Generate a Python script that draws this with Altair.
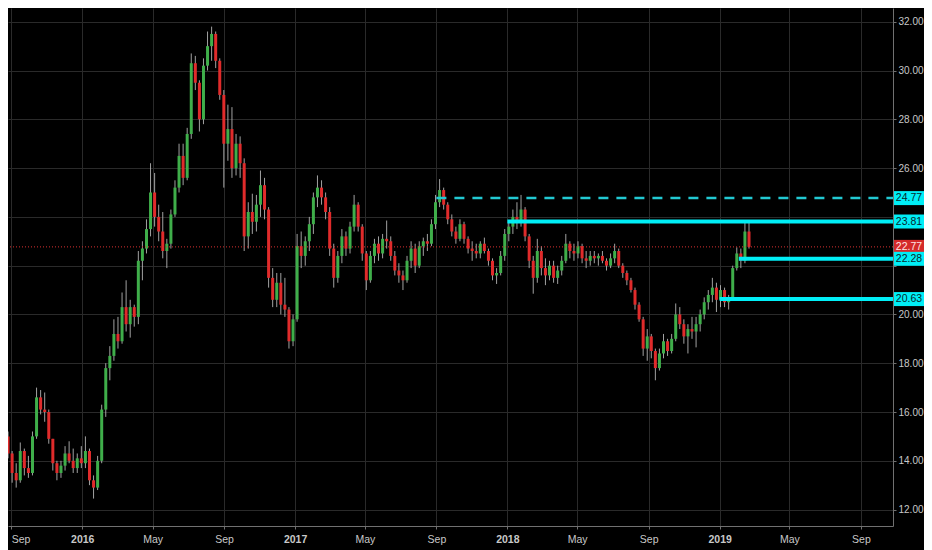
import altair as alt
import pandas as pd

# ---- weekly OHLC (Aug 2015 - Feb 2019) ----
opens = [15.0, 14.3, 13.5, 13.2, 14.4, 13.7, 13.5, 15.0, 16.6, 16.1,
         16.0, 14.9, 13.9, 13.5, 13.8, 14.3, 14.0, 13.7, 14.1, 13.9,
         14.4, 13.2, 12.9, 14.0, 16.1, 17.8, 18.3, 19.2, 18.9, 20.3,
         19.6, 20.3, 19.9, 22.2, 22.7, 23.5, 25.0, 24.0, 23.4, 22.6,
         22.9, 24.1, 25.2, 26.5, 25.6, 27.4, 30.3, 29.5, 28.0, 30.2,
         31.0, 31.5, 30.4, 29.0, 27.0, 27.6, 26.0, 27.0, 26.2, 23.2,
         24.2, 23.8, 24.5, 25.3, 24.3, 21.5, 20.6, 21.3, 20.4, 20.2,
         18.9, 19.8, 22.8, 22.4, 23.0, 23.7, 24.8, 25.2, 24.8, 24.2,
         22.7, 21.5, 22.4, 23.2, 22.7, 23.6, 24.5, 23.6, 22.5, 21.4,
         22.4, 22.9, 22.5, 23.1, 23.0, 22.4, 21.8, 21.6, 21.4, 22.2,
         22.7, 22.0, 22.8, 23.0, 22.9, 23.7, 24.6, 25.1, 24.5, 23.9,
         23.4, 23.1, 23.7, 23.1, 22.7, 22.6, 22.5, 22.9, 22.6, 22.2,
         21.6, 21.7, 22.4, 23.3, 23.6, 24.0, 23.8, 24.3, 23.2, 22.2,
         21.5, 22.6, 21.9, 21.6, 22.0, 21.5, 21.8, 22.2, 22.9, 22.6,
         22.5, 22.8, 22.3, 22.2, 22.4, 22.3, 22.4, 22.2, 22.0, 22.3,
         22.6, 22.0, 21.7, 21.4, 21.0, 20.4, 19.8, 18.6, 19.1, 18.5,
         17.8, 18.4, 18.9, 18.5, 19.0, 20.0, 19.6, 19.1, 19.4, 19.3,
         19.6, 20.0, 20.5, 20.8, 21.1, 20.6, 21.0, 20.5, 20.7, 21.9,
         22.5, 22.2, 23.4]
highs = [15.2, 14.4, 13.9, 14.75, 14.5, 14.2, 15.2, 17.0, 16.9, 16.8,
         16.1, 14.9, 14.0, 14.0, 14.6, 14.8, 14.5, 14.3, 14.6, 15.0,
         14.5, 13.4, 14.2, 16.3, 18.0, 18.7, 19.8, 19.9, 20.9, 21.4,
         20.6, 20.4, 22.6, 23.0, 23.9, 26.2, 25.8, 24.5, 24.2, 23.1,
         24.3, 25.5, 27.0, 27.0, 27.65, 30.7, 30.6, 29.6, 30.5, 31.6,
         31.8, 31.6, 30.5, 29.2, 28.6, 28.5, 27.4, 27.3, 26.4, 24.6,
         24.95, 24.9, 25.9, 25.6, 24.4, 21.9, 21.7, 21.7, 21.5, 20.3,
         20.0, 23.3, 23.4, 23.2, 24.0, 25.0, 25.7, 25.5, 25.0, 24.4,
         22.9, 22.6, 23.5, 23.4, 23.8, 24.9, 24.6, 23.7, 22.6, 22.6,
         23.1, 23.2, 23.3, 23.85, 23.2, 22.6, 22.1, 21.8, 22.4, 23.0,
         22.9, 23.0, 23.15, 23.3, 23.9, 24.9, 25.55, 25.2, 24.6, 24.1,
         23.6, 23.9, 23.8, 23.2, 23.0, 22.9, 23.0, 23.15, 22.7, 22.3,
         21.9, 22.6, 23.5, 23.85, 24.3, 24.6, 24.9, 24.4, 23.3, 22.4,
         23.1, 22.8, 22.3, 22.2, 22.2, 22.0, 22.4, 23.3, 23.0, 22.9,
         23.0, 22.9, 22.6, 22.6, 22.6, 22.5, 22.6, 22.3, 22.5, 22.9,
         22.7, 22.1, 21.8, 21.5, 21.1, 20.5, 19.9, 19.4, 19.2, 18.6,
         18.6, 19.2, 19.0, 19.2, 20.45, 20.3, 19.8, 19.6, 19.9, 19.9,
         20.2, 20.7, 21.0, 21.5, 21.3, 21.2, 21.1, 20.8, 22.0, 22.75,
         22.7, 23.8, 23.8]
lows = [14.1, 13.1, 12.9, 13.1, 13.4, 13.3, 13.4, 14.9, 15.9, 15.6,
        14.7, 13.6, 13.2, 13.3, 13.6, 13.9, 13.5, 13.5, 13.7, 13.7,
        13.0, 12.45, 12.8, 13.9, 15.8, 17.3, 18.1, 18.6, 18.8, 19.3,
        19.05, 19.5, 19.6, 21.4, 22.5, 23.2, 23.6, 23.0, 22.3, 21.9,
        22.7, 24.0, 25.0, 25.3, 25.5, 27.2, 29.2, 27.5, 27.8, 30.0,
        30.4, 30.1, 28.8, 25.2, 26.3, 25.6, 25.7, 25.6, 22.6, 22.7,
        23.3, 23.4, 24.0, 23.9, 21.1, 20.3, 20.3, 20.0, 19.9, 18.6,
        18.7, 19.7, 21.9, 22.0, 22.6, 23.3, 24.4, 24.5, 23.9, 22.4,
        21.1, 21.3, 22.1, 22.4, 22.5, 23.4, 23.4, 22.2, 21.0, 21.3,
        22.1, 22.2, 22.3, 22.7, 22.2, 21.6, 21.3, 21.0, 21.3, 21.9,
        21.7, 21.9, 22.4, 22.6, 22.8, 23.5, 24.4, 24.3, 23.7, 23.2,
        22.9, 23.0, 22.9, 22.5, 22.2, 22.3, 22.3, 22.5, 22.0, 21.4,
        21.25, 21.6, 22.2, 23.0, 23.3, 23.5, 23.6, 23.0, 21.9, 20.85,
        21.3, 21.6, 21.2, 21.4, 21.3, 21.25, 21.6, 22.1, 22.3, 22.2,
        22.3, 22.1, 21.9, 22.0, 22.1, 22.0, 22.1, 21.8, 21.9, 22.1,
        21.9, 21.5, 21.2, 20.9, 20.2, 19.7, 18.3, 18.1, 18.2, 17.3,
        17.7, 18.2, 18.3, 18.4, 18.9, 19.4, 18.8, 18.4, 19.0, 18.65,
        19.3, 19.8, 20.2, 20.5, 20.1, 20.3, 20.3, 20.2, 20.6, 21.8,
        21.9, 22.1, 22.7]
closes = [14.3, 13.5, 13.2, 14.4, 13.7, 13.5, 15.0, 16.6, 16.1, 16.0,
          14.9, 13.9, 13.5, 13.8, 14.3, 14.0, 13.7, 14.1, 13.9, 14.4,
          13.2, 12.9, 14.0, 16.1, 17.8, 18.3, 19.2, 18.9, 20.3, 19.6,
          20.3, 19.9, 22.2, 22.7, 23.5, 25.0, 24.0, 23.4, 22.6, 22.9,
          24.1, 25.2, 26.5, 25.6, 27.4, 30.3, 29.5, 28.0, 30.2, 31.0,
          31.5, 30.4, 29.0, 27.0, 27.6, 26.0, 27.0, 26.2, 23.2, 24.2,
          23.8, 24.5, 25.3, 24.3, 21.5, 20.6, 21.3, 20.4, 20.2, 18.9,
          19.8, 22.8, 22.4, 23.0, 23.7, 24.8, 25.2, 24.8, 24.2, 22.7,
          21.5, 22.4, 23.2, 22.7, 23.6, 24.5, 23.6, 22.5, 21.4, 22.4,
          22.9, 22.5, 23.1, 23.0, 22.4, 21.8, 21.6, 21.4, 22.2, 22.7,
          22.0, 22.8, 23.0, 22.9, 23.7, 24.6, 25.1, 24.5, 23.9, 23.4,
          23.1, 23.7, 23.1, 22.7, 22.6, 22.5, 22.9, 22.6, 22.2, 21.6,
          21.7, 22.4, 23.3, 23.6, 24.0, 23.8, 24.3, 23.2, 22.2, 21.5,
          22.6, 21.9, 21.6, 22.0, 21.5, 21.8, 22.2, 22.9, 22.6, 22.5,
          22.8, 22.3, 22.2, 22.4, 22.3, 22.4, 22.2, 22.0, 22.3, 22.6,
          22.0, 21.7, 21.4, 21.0, 20.4, 19.8, 18.6, 19.1, 18.5, 17.8,
          18.4, 18.9, 18.5, 19.0, 20.0, 19.6, 19.1, 19.4, 19.3, 19.6,
          20.0, 20.5, 20.8, 21.1, 20.6, 21.0, 20.5, 20.7, 21.9, 22.5,
          22.2, 23.4, 22.77]
first_week = "2015-08-26"

# ---- horizontal levels ----
level_prices = [24.77, 23.81, 22.28, 20.63]
level_starts = ["2017-09-01", "2018-01-01", "2019-02-03", "2019-01-01"]
level_styles = ["dashed", "solid", "solid", "solid"]
last_price = 22.77

# ---- price tags on the right axis ----
tag_prices = [24.77, 23.81, 22.77, 22.28, 20.63]
tag_kinds = ["level", "level", "last", "level", "level"]

# ---- axis ticks ----
y_ticks = [12, 14, 16, 18, 20, 22, 24, 26, 28, 30, 32]
y_hidden_labels = [22, 24]   # covered by the price tags in the reference
x_tick_months = [(2015, 9), (2016, 1), (2016, 5), (2016, 9), (2017, 1), (2017, 5),
                 (2017, 9), (2018, 1), (2018, 5), (2018, 9), (2019, 1), (2019, 5),
                 (2019, 9)]

dates = pd.date_range(first_week, periods=len(closes), freq="7D")
candles = pd.DataFrame({
    "date": dates.strftime("%Y-%m-%dT12:00:00"),
    "open": opens, "high": highs, "low": lows, "close": closes,
})
levels = pd.DataFrame({"price": level_prices,
                       "start": [s + "T00:00:00" for s in level_starts],
                       "style": level_styles})
last_df = pd.DataFrame({"price": [last_price]})
tags = pd.DataFrame({"price": tag_prices, "kind": tag_kinds,
                     "label": [f"{p:.2f}" for p in tag_prices]})

GREEN = "#3fae4a"
RED = "#e02b2b"
CYAN = "#00eef6"
PLOT_W, PLOT_H = 885, 518

xscale = alt.Scale(domain=[alt.DateTime(year=2015, month=9, date=4),
                           alt.DateTime(year=2019, month=10, date=17, hours=12)])
yscale = alt.Scale(domain=[11.326, 32.564], nice=False, zero=False)

xaxis = alt.Axis(
    values=[alt.DateTime(year=y, month=m, date=1) for y, m in x_tick_months],
    labelExpr="month(datum.value) === 0 ? timeFormat(datum.value, '%Y') : timeFormat(datum.value, '%b')",
    labelFontWeight={"condition": {"test": "month(datum.value) === 0", "value": "bold"}, "value": "normal"},
    labelAlign={"condition": {"test": "year(datum.value) === 2015", "value": "left"}, "value": "center"},
    grid=True, tickSize=3, labelPadding=13, labelBaseline="alphabetic",
    title=None, labelFlush=False, labelOverlap=False, labelFontSize=10.5,
)
hidden_test = " || ".join(f"datum.value === {v}" for v in y_hidden_labels)
yaxis = alt.Axis(orient="right", values=y_ticks, grid=True, tickSize=3,
                 labelExpr=f"({hidden_test}) ? '' : format(datum.value, '.2f')",
                 labelPadding=2, title=None, labelFontSize=10)

def X(field):
    return alt.X(field, scale=xscale, axis=xaxis)

def Y(field):
    return alt.Y(field, scale=yscale, axis=yaxis)

base = alt.Chart(candles)
wicks = base.mark_rule(color="#bdbdbd", strokeWidth=1, opacity=0.85, clip=True).encode(
    x=X("date:T"), y=Y("low:Q"), y2="high:Q",
)
bodies = base.mark_bar(size=3, clip=True).encode(
    x=X("date:T"), y=Y("open:Q"), y2="close:Q",
    color=alt.condition("datum.close >= datum.open", alt.value(GREEN), alt.value(RED)),
)
last_line = alt.Chart(last_df).mark_rule(color="#d83030", strokeDash=[1, 2], strokeWidth=1).encode(
    y=Y("price:Q")
)
solid_lines = alt.Chart(levels).transform_filter("datum.style === 'solid'").mark_rule(
    color=CYAN, strokeWidth=4
).encode(
    x=X("start:T"), x2=alt.value(PLOT_W), y=Y("price:Q")
)
dashed_lines = alt.Chart(levels).transform_filter("datum.style === 'dashed'").mark_rule(
    color="#22c9d3", strokeWidth=2.5, strokeDash=[10, 8]
).encode(
    x=X("start:T"), x2=alt.value(PLOT_W), y=Y("price:Q")
)
tag_boxes = alt.Chart(tags).mark_tick(orient="horizontal", thickness=14, size=31, opacity=1).encode(
    x=alt.value(PLOT_W + 16.5),
    y=Y("price:Q"),
    color=alt.condition("datum.kind === 'last'", alt.value("#d42a2a"), alt.value(CYAN)),
)
tag_text = alt.Chart(tags).mark_text(align="center", baseline="middle", fontSize=10.5,
                                     font="Liberation Sans").encode(
    x=alt.value(PLOT_W + 16),
    y=Y("price:Q"),
    text="label:N",
    color=alt.condition("datum.kind === 'last'", alt.value("#ffe4e4"), alt.value("#06282c")),
)

chart = alt.layer(wicks, bodies, last_line, dashed_lines, solid_lines, tag_boxes, tag_text).properties(
    width=PLOT_W, height=PLOT_H,
    autosize=alt.AutoSizeParams(type="none"),
    padding={"left": 0, "top": 0, "right": 31, "bottom": 24},
    background="#000000",
).configure_view(stroke="transparent").configure_axis(
    gridColor="#2a2a2a", domainColor="#707070", tickColor="#707070",
    labelColor="#c8c8c8", labelFont="Liberation Sans",
)

chart.save("out.html", embed_options={"renderer": "svg", "actions": False})
